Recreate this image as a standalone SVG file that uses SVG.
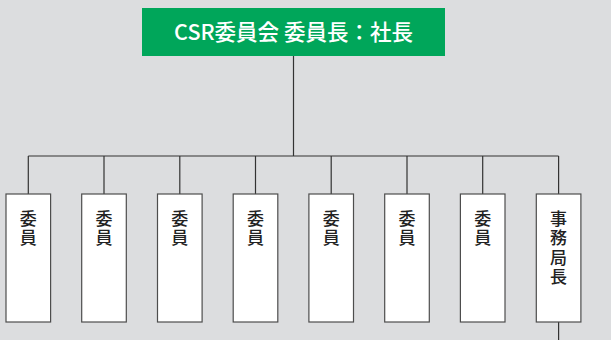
<svg xmlns="http://www.w3.org/2000/svg" width="611" height="340" viewBox="0 0 611 340">
<style>
.box{fill:#ffffff;stroke:#4d4d4d;stroke-width:1.2}
.lbl{font-family:"Noto Sans CJK JP","Noto Sans",sans-serif;font-size:17px;font-weight:500;fill:#222;writing-mode:vertical-rl;letter-spacing:2.5px;text-anchor:start}
.conn{stroke:#333;stroke-width:1.2;fill:none}
</style>
<rect width="611" height="340" fill="#dcdddf"/>
<g id="connectors">
<path class="conn" d="M293.5 56 V156 M28.3 156 H558.6 M28.3 156 V194 M104 156 V194 M179.8 156 V194 M255.5 156 V194 M331.2 156 V194 M407 156 V194 M482.7 156 V194 M558.6 156 V194 M558.6 322 V340"/>
</g>
<g id="chair">
<rect x="142" y="8" width="303" height="48" fill="#00a65a"/>
<text x="293.5" y="40" text-anchor="middle" font-family="Noto Sans CJK JP,Noto Sans,sans-serif" font-size="21.5" font-weight="500" fill="#ffffff">CSR委員会 委員長：社長</text>
</g>
<g id="m1"><rect class="box" x="6" y="194" width="44.6" height="128"/><text class="lbl" x="28.3" y="210">委員</text></g>
<g id="m2"><rect class="box" x="81.7" y="194" width="44.6" height="128"/><text class="lbl" x="104" y="210">委員</text></g>
<g id="m3"><rect class="box" x="157.5" y="194" width="44.6" height="128"/><text class="lbl" x="179.8" y="210">委員</text></g>
<g id="m4"><rect class="box" x="233.2" y="194" width="44.6" height="128"/><text class="lbl" x="255.5" y="210">委員</text></g>
<g id="m5"><rect class="box" x="308.9" y="194" width="44.6" height="128"/><text class="lbl" x="331.2" y="210">委員</text></g>
<g id="m6"><rect class="box" x="384.7" y="194" width="44.6" height="128"/><text class="lbl" x="407" y="210">委員</text></g>
<g id="m7"><rect class="box" x="460.4" y="194" width="44.6" height="128"/><text class="lbl" x="482.7" y="210">委員</text></g>
<g id="sec"><rect class="box" x="536.3" y="194" width="44.6" height="128"/><text class="lbl" x="558.6" y="210">事務局長</text></g>
</svg>
